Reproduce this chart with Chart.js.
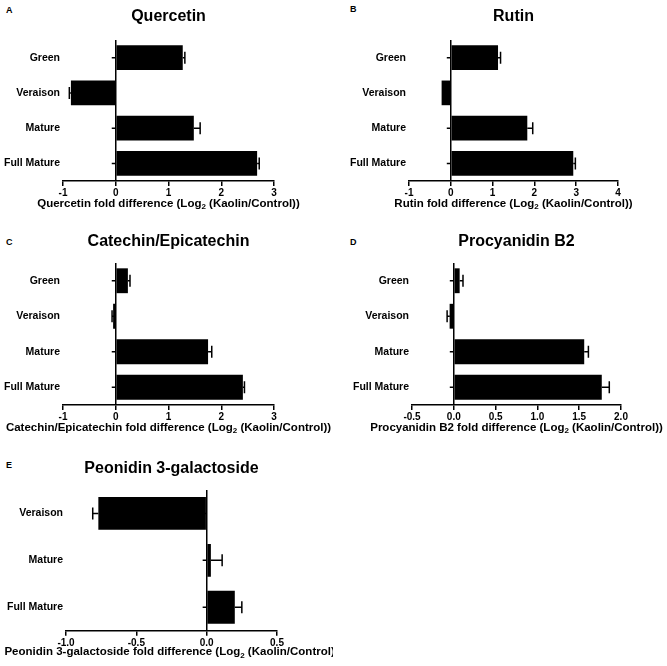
<!DOCTYPE html>
<html>
<head>
<meta charset="utf-8">
<script src="https://cdn.jsdelivr.net/npm/chart.js@4"></script>
<style>
  body { margin: 0; background: #fff; }
  #page { position: relative; width: 667px; height: 666px; overflow: hidden; }
  canvas { position: absolute; }
  .tag { position: absolute; font: bold 9px "Liberation Sans", Arial, sans-serif; color: #000; }
</style>
</head>
<body>
<div id="page">
  <div class="tag" style="left:6px;top:5px">A</div>
  <div class="tag" style="left:350px;top:4px">B</div>
  <div class="tag" style="left:6px;top:237px">C</div>
  <div class="tag" style="left:350px;top:237px">D</div>
  <div class="tag" style="left:6px;top:460px">E</div>
</div>
<script>
// stages
const stages4 = ["Green", "Veraison", "Mature", "Full Mature"];
const stages3 = ["Veraison", "Mature", "Full Mature"];

// log2 fold difference (Kaolin/Control) and the error bar length
const quercetin = [1.27, -0.85, 1.48, 2.68];
const quercetinErr = [0.04, 0.03, 0.12, 0.04];
const rutin = [1.13, -0.22, 1.83, 2.93];
const rutinErr = [0.06, 0, 0.13, 0.05];
const catechin = [0.23, -0.05, 1.75, 2.41];
const catechinErr = [0.04, 0.02, 0.07, 0.03];
const procyanidin = [0.07, -0.05, 1.56, 1.77];
const procyanidinErr = [0.04, 0.03, 0.05, 0.09];
const peonidin = [-0.77, 0.03, 0.20];
const peonidinErr = [0.04, 0.08, 0.05];

// x tick labels
const ticksA = [-1, 0, 1, 2, 3];
const ticksB = [-1, 0, 1, 2, 3, 4];
const ticksC = [-1, 0, 1, 2, 3];
const ticksD = [-0.5, 0.0, 0.5, 1.0, 1.5, 2.0];
const ticksE = [-1.0, -0.5, 0.0, 0.5];

const FONT = '"Liberation Sans", Arial, sans-serif';

// titles, error bars, little y ticks on the zero line
const decor = {
  id: "decor",
  afterDatasetsDraw(chart, args, o) {
    const { ctx, chartArea, scales: { x, y } } = chart;
    const meta = chart.getDatasetMeta(0);
    const vals = chart.data.datasets[0].data;
    ctx.save();
    ctx.strokeStyle = "#000";
    ctx.lineWidth = 1.5;
    ctx.beginPath();
    meta.data.forEach((bar, i) => {
      const v = vals[i], e = o.err[i];
      if (!e) return;
      const x0 = x.getPixelForValue(v);
      const x1 = x.getPixelForValue(v + (v < 0 ? -e : e));
      ctx.moveTo(x0, bar.y); ctx.lineTo(x1, bar.y);
      ctx.moveTo(x1, bar.y - 6); ctx.lineTo(x1, bar.y + 6);
    });
    const zx = x.getPixelForValue(0);
    y.ticks.forEach((t, i) => {
      const py = y.getPixelForTick(i);
      ctx.moveTo(zx - 4, py); ctx.lineTo(zx, py);
    });
    ctx.stroke();

    const cx = (chartArea.left + chartArea.right) / 2;
    ctx.fillStyle = "#000";
    ctx.textBaseline = "middle";
    ctx.textAlign = "center";
    ctx.font = "bold 16px " + FONT;
    ctx.fillText(o.title, cx, o.titleY);

    // axis title with subscript 2
    const a = o.name + " fold difference (Log", s = "2", b = " (Kaolin/Control))";
    const big = "bold 11.5px " + FONT, small = "bold 8px " + FONT;
    ctx.font = big; const wa = ctx.measureText(a).width, wb = ctx.measureText(b).width;
    ctx.font = small; const ws = ctx.measureText(s).width;
    let px = cx - (wa + ws + wb) / 2;
    ctx.textAlign = "left";
    ctx.font = big; ctx.fillText(a, px, o.axisY); px += wa;
    ctx.font = small; ctx.fillText(s, px, o.axisY + 3); px += ws;
    ctx.font = big; ctx.fillText(b, px, o.axisY);
    ctx.restore();
  }
};

function panel(p) {
  const c = document.createElement("canvas");
  c.width = p.w; c.height = p.h;
  c.style.left = p.left + "px"; c.style.top = p.top + "px";
  document.getElementById("page").appendChild(c);
  const xh = 18;
  const dec = p.ticks.some(t => !Number.isInteger(t)) ? 1 : 0;
  new Chart(c, {
    type: "bar",
    data: {
      labels: p.labels,
      datasets: [{ data: p.data, backgroundColor: "#000", categoryPercentage: 1, barPercentage: 0.7 }]
    },
    options: {
      indexAxis: "y",
      responsive: false,
      animation: false,
      layout: { padding: { left: 0, top: p.ca.t, right: p.w - p.ca.r, bottom: p.h - p.ca.b - xh } },
      plugins: {
        legend: { display: false },
        tooltip: { enabled: false },
        decor: { err: p.err, title: p.title, name: p.name, titleY: p.titleY, axisY: p.axisY }
      },
      scales: {
        x: {
          min: p.ticks[0],
          max: p.ticks[p.ticks.length - 1],
          afterFit: s => { s.height = xh; },
          ticks: {
            stepSize: p.ticks[1] - p.ticks[0],
            padding: 1.5,
            color: "#000",
            font: { family: FONT, size: 10, weight: "bold" },
            callback: v => Number(v).toFixed(dec)
          },
          grid: {
            color: ctx => (ctx.tick && ctx.tick.value === 0 ? "#000" : "rgba(0,0,0,0)"),
            lineWidth: 1.5,
            tickColor: "#000",
            tickWidth: 1.5,
            tickLength: 5
          },
          border: { display: true, color: "#000", width: 1.5 }
        },
        y: {
          afterFit: s => { s.width = p.ca.l; },
          grid: { display: false, drawTicks: false, tickLength: 0 },
          border: { display: false },
          ticks: { padding: 3, color: "#000", font: { family: FONT, size: 10.5, weight: "bold" } }
        }
      }
    },
    plugins: [decor]
  });
}

panel({ left: 0, top: 0, w: 333, h: 220, ca: { l: 63, r: 274, t: 40, b: 181 }, titleY: 17, axisY: 203.5,
  labels: stages4, data: quercetin, err: quercetinErr, ticks: ticksA, title: "Quercetin", name: "Quercetin" });
panel({ left: 333, top: 0, w: 334, h: 220, ca: { l: 76, r: 285, t: 40, b: 181 }, titleY: 17, axisY: 203.5,
  labels: stages4, data: rutin, err: rutinErr, ticks: ticksB, title: "Rutin", name: "Rutin" });
panel({ left: 0, top: 220, w: 345, h: 220, ca: { l: 63, r: 274, t: 43, b: 185 }, titleY: 21.7, axisY: 208,
  labels: stages4, data: catechin, err: catechinErr, ticks: ticksC, title: "Catechin/Epicatechin", name: "Catechin/Epicatechin" });
panel({ left: 333, top: 220, w: 334, h: 220, ca: { l: 79, r: 288, t: 43, b: 185 }, titleY: 21.7, axisY: 208,
  labels: stages4, data: procyanidin, err: procyanidinErr, ticks: ticksD, title: "Procyanidin B2", name: "Procyanidin B2" });
panel({ left: 0, top: 440, w: 333, h: 226, ca: { l: 66, r: 277, t: 50, b: 190.7 }, titleY: 29, axisY: 212.3,
  labels: stages3, data: peonidin, err: peonidinErr, ticks: ticksE, title: "Peonidin 3-galactoside", name: "Peonidin 3-galactoside" });
</script>
</body>
</html>
